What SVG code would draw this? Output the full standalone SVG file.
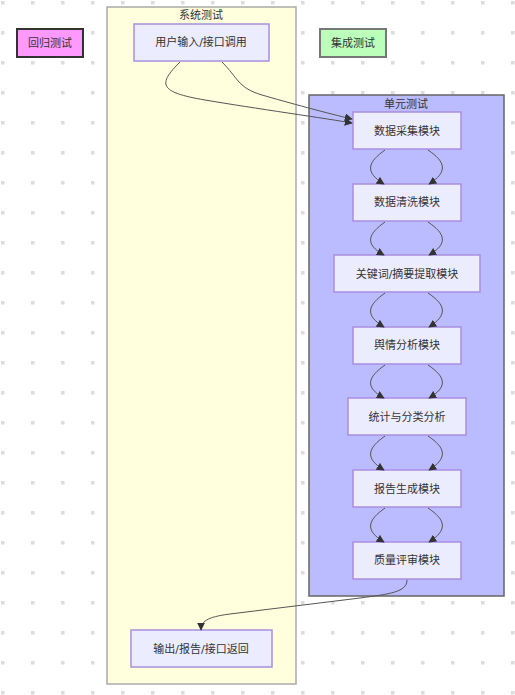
<svg xmlns="http://www.w3.org/2000/svg" width="515" height="695" viewBox="0 0 515 695">
<defs>
<pattern id="dots" x="0" y="0" width="30" height="30" patternUnits="userSpaceOnUse">
<rect x="1" y="1" width="3.5" height="3.5" fill="#dcdcdc"/>
</pattern>
<marker id="arr" viewBox="0 0 10 10" refX="9" refY="5" markerWidth="8" markerHeight="8" markerUnits="userSpaceOnUse" orient="auto">
<path d="M0,0 L10,5 L0,10 z" fill="#333"/>
</marker>
</defs>
<style>
text{font-family:"DejaVu Sans","Noto Sans CJK SC",sans-serif;font-size:11px;fill:#333;text-anchor:middle;dominant-baseline:central}
.node rect{fill:#ECECFF;stroke:#a98fe0;stroke-width:1.5}
.edge{fill:none;stroke:#555;stroke-width:1;marker-end:url(#arr)}
</style>
<rect width="515" height="695" fill="#fff"/>
<rect width="515" height="695" fill="url(#dots)"/>

<g id="cluster-system">
<rect x="107" y="7" width="189" height="677" fill="#ffffde" stroke="#aaa" stroke-width="1.5"/>
<text x="201" y="15">系统测试</text>
</g>
<g id="cluster-unit">
<rect x="309" y="95" width="195" height="501" fill="#bbbbff" stroke="#666" stroke-width="1.5"/>
<text x="406" y="104">单元测试</text>
</g>

<g id="regression">
<rect x="17" y="29" width="66" height="28" fill="#ff99ff" stroke="#333" stroke-width="2"/>
<text x="50" y="43">回归测试</text>
</g>
<g id="integration">
<rect x="320" y="29" width="66" height="28" fill="#bbffbb" stroke="#777" stroke-width="2"/>
<text x="353" y="43">集成测试</text>
</g>

<g id="user-input" class="node">
<rect x="134" y="24" width="135" height="37"/>
<text x="201" y="42">用户输入/接口调用</text>
</g>
<g id="output" class="node">
<rect x="131" y="630" width="141" height="37"/>
<text x="201" y="649">输出/报告/接口返回</text>
</g>
<g id="m1" class="node">
<rect x="353" y="112" width="108" height="37"/>
<text x="407" y="131">数据采集模块</text>
</g>
<g id="m2" class="node">
<rect x="353" y="184" width="108" height="37"/>
<text x="407" y="202">数据清洗模块</text>
</g>
<g id="m3" class="node">
<rect x="334" y="255" width="146" height="37"/>
<text x="407" y="274">关键词/摘要提取模块</text>
</g>
<g id="m4" class="node">
<rect x="353" y="327" width="108" height="37"/>
<text x="407" y="345">舆情分析模块</text>
</g>
<g id="m5" class="node">
<rect x="348" y="398" width="118" height="37"/>
<text x="407" y="417">统计与分类分析</text>
</g>
<g id="m6" class="node">
<rect x="353" y="470" width="108" height="37"/>
<text x="407" y="489">报告生成模块</text>
</g>
<g id="m7" class="node">
<rect x="353" y="542" width="108" height="37"/>
<text x="407" y="560">质量评审模块</text>
</g>

<g id="edges">
<path class="edge" d="M180,62 C158,84 158,92 205,100 S330,119 352,123"/>
<path class="edge" d="M222,62 C238,78 238,88 262,95 S330,114 352,119"/>
<path class="edge" d="M385,150 C368,162 364,172 384,184"/>
<path class="edge" d="M428,150 C446,162 448,172 429,184"/>
<path class="edge" d="M385,222 C368,234 364,244 384,255"/>
<path class="edge" d="M428,222 C446,234 448,244 429,255"/>
<path class="edge" d="M385,293 C368,305 364,315 384,327"/>
<path class="edge" d="M428,293 C446,305 448,315 429,327"/>
<path class="edge" d="M385,365 C368,377 364,387 384,398"/>
<path class="edge" d="M428,365 C446,377 448,387 429,398"/>
<path class="edge" d="M385,436 C368,448 364,458 384,470"/>
<path class="edge" d="M428,436 C446,448 448,458 429,470"/>
<path class="edge" d="M385,508 C368,520 364,530 384,542"/>
<path class="edge" d="M428,508 C446,520 448,530 429,542"/>
<path class="edge" d="M407,580 C407,592 390,594 360,598 L230,614 C206,617 201,622 201,630"/>
</g>
</svg>
